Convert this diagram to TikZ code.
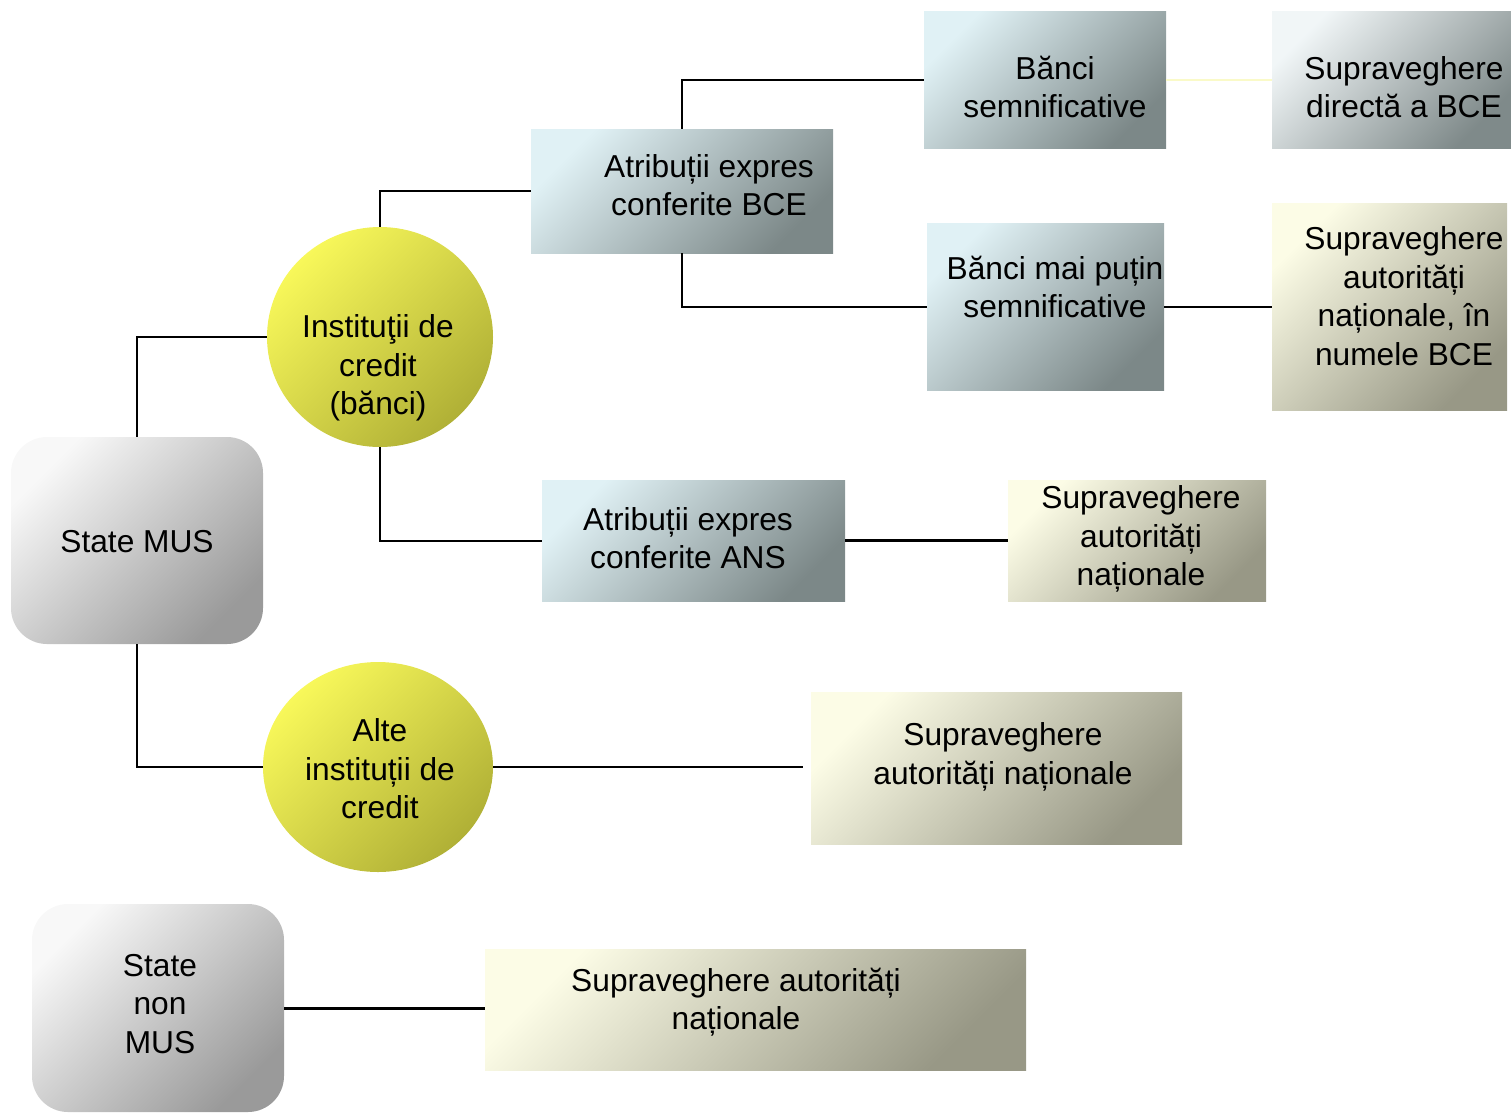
\documentclass[tikz,border=0pt]{standalone}
\usepackage{fontspec}
\setmainfont{Liberation Sans}
\usetikzlibrary{shapes.geometric}
\definecolor{gA}{HTML}{F8F8F8}
\definecolor{gB}{HTML}{9A9A9A}
\definecolor{bA}{HTML}{E0F1F5}
\definecolor{bB}{HTML}{7C8888}
\definecolor{kA}{HTML}{FCFCE6}
\definecolor{kB}{HTML}{989886}
\definecolor{yA}{HTML}{F8F85A}
\definecolor{yB}{HTML}{B0B036}
\definecolor{paleline}{HTML}{FAFAC8}
\begin{document}
\begin{tikzpicture}[x=1pt,y=-1pt,
  boxbase/.style={rectangle, inner sep=0pt, draw=none},
  graybox/.style={boxbase, top color=gA, bottom color=gB, shading angle=45, rounded corners=36pt},
  bluebox/.style={boxbase, top color=bA, bottom color=bB, shading angle=45},
  khakibox/.style={boxbase, top color=kA, bottom color=kB, shading angle=45},
  yellowell/.style={ellipse, inner sep=0pt, draw=none, top color=yA, bottom color=yB, shading angle=45},
  txt/.style={align=center, inner sep=0pt, font=\fontsize{31.7}{38.5}\selectfont},
  conn/.style={draw=black, line width=2pt},
  connthick/.style={draw=black, line width=3pt},
  connpale/.style={draw=paleline, line width=2pt}]
\useasboundingbox (0,0) rectangle (1511,1112);

% left boxes
\node[graybox, minimum width=252pt, minimum height=207pt] (smus) at (137,540.5) {};
\node[txt] (tsmus) at (137,542) {State MUS};
\node[graybox, minimum width=252pt, minimum height=208pt] (snm) at (158,1008) {};
\node[txt] (tsnm) at (160,1004) {State\\non\\MUS};

% ellipses
\node[yellowell, minimum width=226pt, minimum height=220pt] (c1) at (380,337) {};
\node[txt] (tc1) at (378,368) {Instituţii de\\credit\\(bănci)};
\node[yellowell, minimum width=230pt, minimum height=210pt] (c2) at (378,767) {};
\node[txt] (tc2) at (380,769) {Alte\\instituții de\\credit};

% blue boxes
\node[bluebox, minimum width=302pt, minimum height=124pt] (bce) at (682,191) {};
\node[txt] (tbce) at (709,185) {Atribuții expres\\conferite BCE};
\node[bluebox, minimum width=242pt, minimum height=137pt] (bs) at (1045,79.5) {};
\node[txt] (tbs) at (1055,87) {Bănci\\semnificative};
\node[bluebox, minimum width=237pt, minimum height=167pt] (bmp) at (1045.5,306.5) {};
\node[txt] (tbmp) at (1055,287) {Bănci mai puțin\\semnificative};
\node[bluebox, minimum width=303pt, minimum height=121pt] (ans) at (693.5,540.5) {};
\node[txt] (tans) at (688,538) {Atribuții expres\\conferite ANS};

% grey-blue top right
\node[boxbase, top color=gA!70!bA, bottom color=bB!90!gB, shading angle=45, minimum width=239pt, minimum height=137pt] (sd) at (1391.5,79.5) {};
\node[txt] (tsd) at (1404,87) {Supraveghere\\directă a BCE};

% khaki boxes
\node[khakibox, minimum width=235pt, minimum height=207pt] (snb) at (1389.5,306.5) {};
\node[txt] (tsnb) at (1404,296) {Supraveghere\\autorități\\naționale, în\\numele BCE};
\node[khakibox, minimum width=258pt, minimum height=121pt] (sm) at (1137,540.5) {};
\node[txt] (tsm) at (1141,539) {Supraveghere\\autorități\\naționale};
\node[khakibox, minimum width=371pt, minimum height=152pt] (sa) at (996.5,768) {};
\node[txt] (tsa) at (1003,757) {Supraveghere\\autorități naționale};
\node[khakibox, minimum width=541pt, minimum height=121pt] (sn) at (755.5,1009.5) {};
\node[txt] (tsn) at (736,1002) {Supraveghere autorități\\naționale};

% connectors
\draw[conn] (smus.north) |- (c1.west);
\draw[conn] (smus.south) |- (c2.west);
\draw[conn] (c1.north) |- (bce.west);
\draw[conn] (c1.south) |- (ans.west);
\draw[conn] (bce.north) |- (bs.west);
\draw[conn] (bce.south) |- (bmp.west);
\draw[connpale] (bs.east) -- (sd.west);
\draw[conn] (bmp.east) -- (snb.west);
\draw[connthick] (ans.east) -- (sm.west);
\draw[conn, shorten >=8pt] (c2.east) -- (c2.east -| sa.west);
\draw[connthick] (snm.east) -- (snm.east -| sn.west);
\end{tikzpicture}
\end{document}
